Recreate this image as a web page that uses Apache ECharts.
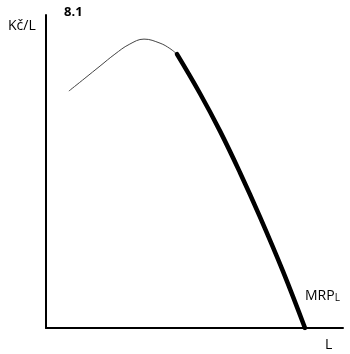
<!DOCTYPE html>
<html>
<head>
<meta charset="utf-8">
<script src="https://cdn.jsdelivr.net/npm/echarts@6/dist/echarts.min.js"></script>
<style>html,body{margin:0;padding:0;background:#fff}#c{width:350px;height:354px}</style>
</head>
<body>
<div id="c"></div>
<script>
// Rising (thin) part of the curve: [L, Kč/L]
const thinCurve = [[7.7,75.7],[13.1,79.8],[18.2,83.7],[23.2,87.5],[28.0,90.6],[33.0,92.3],[38.4,91.0],[41.7,89.3],[44.1,87.5]];
// Falling (thick) part: MRP_L
const mrpCurve = [[44.1,87.5],[51.8,75.0],[58.6,62.9],[65.3,49.7],[72.0,35.6],[79.8,18.1],[87.2,0]];
const title = '8.1';
const yName = 'Kč/L';
const xName = 'L';

const chart = echarts.init(document.getElementById('c'), null, {renderer:'canvas'});
const font = 'Open Sans, Liberation Sans, sans-serif';
chart.setOption({
  animation:false,
  backgroundColor:'#fff',
  grid:{left:46,right:7,top:15,bottom:26},
  xAxis:{type:'value',min:0,max:100,axisLine:{show:true,lineStyle:{color:'#000',width:2}},axisTick:{show:false},axisLabel:{show:false},splitLine:{show:false}},
  yAxis:{type:'value',min:0,max:100,axisLine:{show:true,lineStyle:{color:'#000',width:2}},axisTick:{show:false},axisLabel:{show:false},splitLine:{show:false}},
  series:[
    {type:'line',data:thinCurve,smooth:0.4,symbol:'none',lineStyle:{color:'#444',width:1}},
    {type:'line',data:mrpCurve,smooth:0.4,symbol:'none',lineStyle:{color:'#000',width:4.5,cap:'round'}}
  ],
  graphic:[
    {type:'text',left:8,top:19,style:{text:yName,font:'14px '+font,fill:'#000'}},
    {type:'text',left:64,top:6,style:{text:title,font:'bold 13px '+font,fill:'#000'}},
    {type:'text',left:325,top:338,style:{text:xName,font:'14px '+font,fill:'#000'}},
    {type:'text',left:305,top:289,style:{text:'{a|MRP}{b|L}',rich:{a:{font:'14px '+font,fill:'#000',verticalAlign:'bottom'},b:{font:'10px '+font,fill:'#000',verticalAlign:'bottom'}}}}
  ]
});
</script>
</body>
</html>
